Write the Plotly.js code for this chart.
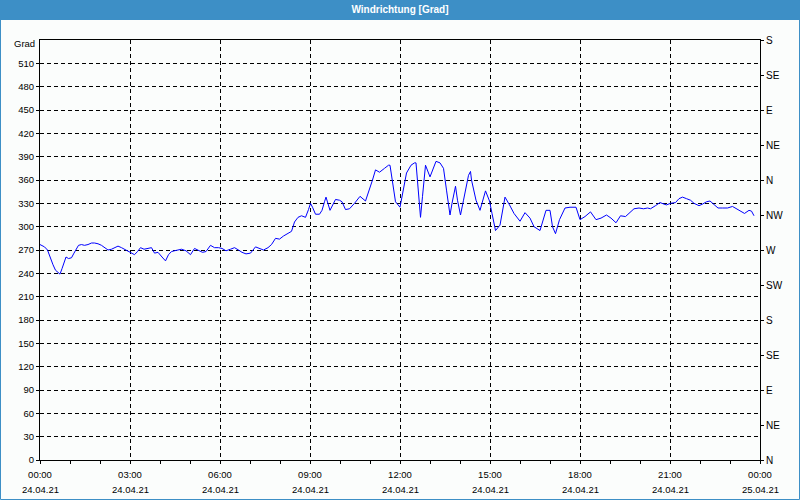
<!DOCTYPE html>
<html>
<head>
<meta charset="utf-8">
<script src="https://cdn.plot.ly/plotly-3.0.1.min.js"></script>
<style>
html,body{margin:0;padding:0;background:#fbfdfc;}
#chart{width:800px;height:500px;}
</style>
</head>
<body>
<div id="chart"></div>
<script>
// minutes after 24.04.21 00:00
const minutes = [0,9,15,21,26,31,36,40,44,48,52,57,63,68,73,77,83,89,96,103,109,116,123,129,136,143,149,156,163,169,176,183,189,195,201,208,216,223,229,236,244,251,257,263,269,276,283,
292,301,309,317,325,332,341,349,357,364,372,381,389,397,404,412,421,431,439,447,456,463,471,479,487,496,503,509,516,523,531,537,541,545,551,559,564,569,572,
580,591,599,604,611,619,629,640,651,659,665,671,679,689,697,700,705,711,720,727,733,742,749,752,757,761,765,771,780,792,800,807,813,820,824,831,835,841,847,852,857,861,
863,872,880,891,899,904,911,920,930,939,948,960,970,980,988,1000,1012,1020,1025,1031,1039,1050,1060,1072,1080,1090,1101,1112,1122,1133,1142,1152,
1161,1171,1180,1188,1198,1207,1215,1221,1231,1240,1248,1253,1261,1271,1278,1285,1293,1301,1308,1318,1325,1333,1340,1347,1356,1365,1375,1385,1393,1401,1409,1418,1423,1428];
const direction = [277,274,270,259,251,244,241,239,246,254,261,259,260,266,271,276,277,276,277,279,279,278,276,273,270,271,273,275,273,271,269,267,264,268,273,271,272,273,266,267,261,256,264,268,269,270,271,
269,264,272,269,267,268,276,273,273,272,269,271,273,270,267,265,266,274,272,270,273,277,285,284,288,291,294,306,312,314,312,322,330,325,316,316,321,332,338,
321,335,334,332,322,323,330,339,333,347,360,373,370,375,379,379,356,332,325,351,369,379,382,382,339,312,339,379,364,384,382,375,347,315,330,352,334,315,334,351,366,371,
360,334,321,346,333,317,295,302,338,328,317,307,318,311,300,295,321,321,300,291,309,324,325,325,309,313,319,309,311,315,311,305,
314,313,318,323,324,323,324,323,327,331,329,328,330,331,336,338,336,334,330,327,329,332,333,329,324,324,324,326,323,319,317,321,320,314];

const timeTickVals = [0,180,360,540,720,900,1080,1260,1440];
const timeTickText = ["00:00","03:00","06:00","09:00","12:00","15:00","18:00","21:00","00:00"];
const dateTickText = ["24.04.21","24.04.21","24.04.21","24.04.21","24.04.21","24.04.21","24.04.21","24.04.21","25.04.21"];
const degTickVals = [0,30,60,90,120,150,180,210,240,270,300,330,360,390,420,450,480,510];
const compassVals = [0,45,90,135,180,225,270,315,360,405,450,495,540];
const compassText = ["N","NE","E","SE","S","SW","W","NW","N","NE","E","SE","S"];

const W = 800, H = 500, L = 40, R = 40, T = 40, B = 40;
const pw = W - L - R, ph = H - T - B;
const px = p => (p - L) / pw;
const py = p => (H - B - p) / ph;
const blue = '#3d8fc6';
const font = {family: 'Liberation Sans, Arial, sans-serif', size: 9.5, color: '#000'};

const traces = [{
  x: minutes, y: direction, type: 'scatter', mode: 'lines',
  line: {color: '#0000ff', width: 1}, hoverinfo: 'skip', showlegend: false
}, {
  x: [], y: [], yaxis: 'y2', type: 'scatter', mode: 'lines',
  hoverinfo: 'skip', showlegend: false
}];

const annotations = dateTickText.map((t, i) => ({
  x: timeTickVals[i], xref: 'x', y: py(489), yref: 'paper',
  text: t, showarrow: false, font: font, xanchor: 'center', yanchor: 'middle'
}));
annotations.push({x: px(37), xref: 'paper', y: py(44), yref: 'paper', text: 'Grad',
  showarrow: false, font: font, xanchor: 'right', yanchor: 'middle'});

const layout = {
  width: W, height: H,
  margin: {l: L, r: R, t: T, b: B},
  paper_bgcolor: '#fbfdfc', plot_bgcolor: '#fbfdfc',
  showlegend: false,
  font: font,
  title: {text: '<b>Windrichtung [Grad]</b>', font: {family: 'Liberation Sans, Arial, sans-serif', size: 10, color: '#ffffff'},
    xref: 'container', x: 0.5, xanchor: 'center', yref: 'container', y: 1 - 9 / H, yanchor: 'middle'},
  xaxis: {
    range: [0, 1440], tickmode: 'array', tickvals: timeTickVals, ticktext: timeTickText,
    showgrid: true, gridcolor: '#000', griddash: '4px,3px', gridwidth: 1,
    showline: true, linecolor: '#000', linewidth: 1, mirror: true,
    ticks: 'outside', ticklen: 3, tickcolor: '#000', tickfont: font, ticklabelstandoff: 3,
    minor: {dtick: 60, tick0: 0, ticks: 'outside', ticklen: 3, tickcolor: '#000', showgrid: false},
    zeroline: false, fixedrange: true
  },
  yaxis: {
    range: [0, 540], tickmode: 'array', tickvals: degTickVals,
    showgrid: true, gridcolor: '#000', griddash: '4px,3px', gridwidth: 1,
    showline: true, linecolor: '#000', linewidth: 1, mirror: true,
    ticks: 'outside', ticklen: 3, tickcolor: '#000', tickfont: font,
    zeroline: false, fixedrange: true
  },
  yaxis2: {
    range: [0, 540], overlaying: 'y', side: 'right', tickmode: 'array',
    tickvals: compassVals, ticktext: compassText, showgrid: false,
    showline: true, linecolor: '#000', ticks: 'outside', ticklen: 3, tickcolor: '#000',
    tickfont: {family: 'Liberation Sans, Arial, sans-serif', size: 10, color: '#000'},
    zeroline: false, fixedrange: true
  },
  shapes: [
    {type: 'rect', xref: 'paper', yref: 'paper', x0: px(0), x1: px(800), y0: py(20), y1: py(0),
      fillcolor: blue, line: {width: 0}, layer: 'above'},
    {type: 'rect', xref: 'paper', yref: 'paper', x0: px(0.5), x1: px(799.5), y0: py(499.5), y1: py(0.5),
      fillcolor: 'rgba(0,0,0,0)', line: {width: 1, color: blue}, layer: 'above'}
  ],
  annotations: annotations
};

Plotly.newPlot('chart', traces, layout, {displayModeBar: false, staticPlot: true});
</script>
</body>
</html>
